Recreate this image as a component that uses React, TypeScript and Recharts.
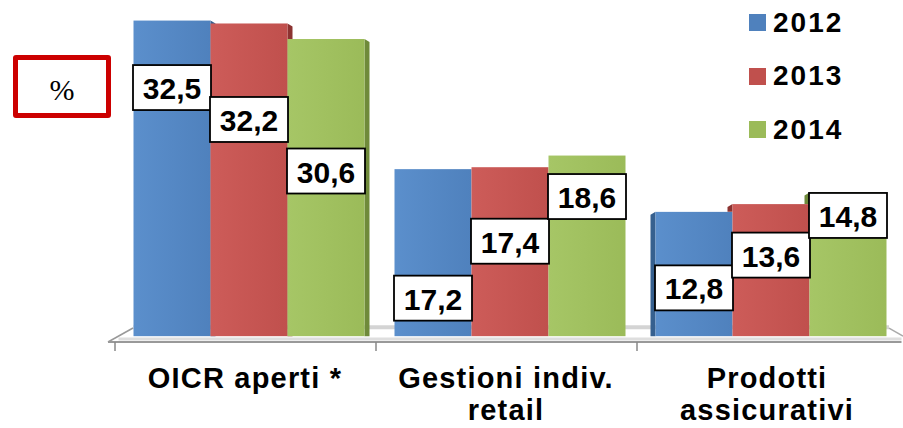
import React from "react";
import {
  BarChart,
  Bar,
  XAxis,
  YAxis,
  LabelList,
  ReferenceLine,
} from "recharts";

const categories = ["OICR aperti *", "Gestioni indiv.|retail", "Prodotti|assicurativi"];
const years = ["2012", "2013", "2014"];
const values2012 = [32.5, 17.2, 12.8];
const values2013 = [32.2, 17.4, 13.6];
const values2014 = [30.6, 18.6, 14.8];

const FONT = '"Liberation Sans", Arial, sans-serif';

const SERIES = [
  { key: "y2012", name: years[0], color: "#4f81bd", light: "#5b8fcc", dark: "#36608f" },
  { key: "y2013", name: years[1], color: "#c0504d", light: "#cd5c59", dark: "#8c3331" },
  { key: "y2014", name: years[2], color: "#9bbb59", light: "#a6c666", dark: "#6f8a3a" },
];

// vertical offset (px) of each label box centre below its bar top, per series / category
const LABEL_DY = [
  [67, 129, 76],
  [96, 74, 51],
  [132, 41, 23],
];

const data = categories.map((c, i) => ({
  name: c,
  y2012: values2012[i],
  y2013: values2013[i],
  y2014: values2014[i],
}));

const makeShape = (si: number) => (props: any) => {
  const { x, y, width, height, index, payload } = props;
  const s = SERIES[si];
  const bottom = y + height;
  const d = 5;
  let face = null;
  let floor = null;
  if (si === 0 && index === 0) {
    // back edge of the floor, drawn before every other bar
    floor = (
      <g>
        <line x1={x} y1={bottom - 9} x2={889} y2={bottom - 9} stroke="#d4d4d4" strokeWidth={4} />
        <line x1={889} y1={bottom - 8} x2={903} y2={bottom} stroke="#aaa" strokeWidth={1.5} />
      </g>
    );
  }
  if (index === 0) {
    // right face
    face = (
      <polygon
        points={`${x + width},${y} ${x + width + d},${y + 3} ${x + width + d},${bottom} ${x + width},${bottom}`}
        fill={s.dark}
      />
    );
  } else if (index === 2) {
    // left face, hidden behind the previous bar
    let faceBottom = bottom;
    if (si > 0) {
      const pv = payload[SERIES[si - 1].key];
      const v = payload[s.key];
      const prevTop = bottom - (height / v) * pv;
      faceBottom = Math.max(y, prevTop);
    }
    face = (
      <polygon
        points={`${x},${y} ${x - d},${y + 3} ${x - d},${faceBottom} ${x},${faceBottom}`}
        fill={s.dark}
      />
    );
  }
  return (
    <g>
      {floor}
      {face}
      <rect x={x} y={y} width={width} height={height} fill={`url(#grad${si})`} />
    </g>
  );
};

const makeLabel = (si: number) => (props: any) => {
  const { x, y, width, value, index } = props;
  const cx = x + width / 2;
  const cy = y + LABEL_DY[si][index];
  const w = 78;
  const h = 45;
  return (
    <g>
      <rect x={cx - w / 2} y={cy - h / 2} width={w} height={h} fill="#fff" stroke="#000" strokeWidth={1.8} />
      <text
        x={cx}
        y={cy + 1}
        textAnchor="middle"
        dominantBaseline="central"
        fontFamily={FONT}
        fontWeight="bold"
        fontSize={30}
        fill="#000"
      >
        {String(value).replace(".", ",")}
      </text>
    </g>
  );
};

const CategoryTick = (props: any) => {
  const { x, y, payload, index } = props;
  const lines = String(payload.value).split("|");
  return (
    <g>
      {index === 0 && (
        <g>
          <line x1={x - 141} y1={y} x2={x - 130} y2={y} stroke="#999" strokeWidth={2} />
          <line x1={x - 141} y1={y} x2={x - 116} y2={y - 14} stroke="#999" strokeWidth={1.5} />
        </g>
      )}
      <line x1={x - 134} y1={y} x2={x - 134} y2={y + 9} stroke="#888" strokeWidth={1.5} />
      {lines.map((l, i) => (
        <text
          key={i}
          x={x - 4}
          y={y + 46 + i * 32}
          textAnchor="middle"
          fontFamily={FONT}
          fontWeight="bold"
          fontSize={29}
          letterSpacing={1.2}
          fill="#000"
        >
          {l}
        </text>
      ))}
    </g>
  );
};

const LegendBox = () => (
  <div style={{ position: "absolute", left: 749, top: -4, fontFamily: FONT }}>
    {SERIES.map((s) => (
      <div key={s.key} style={{ display: "flex", alignItems: "center", height: 53.5 }}>
        <div style={{ width: 17, height: 17, background: s.color, marginRight: 7 }} />
        <span style={{ fontSize: 28, fontWeight: "bold", letterSpacing: 2, color: "#000" }}>{s.name}</span>
      </div>
    ))}
  </div>
);

export default function App() {
  return (
    <div style={{ position: "absolute", left: 0, top: 0, width: 903, height: 428, background: "#fff" }}>
      <div
        style={{
          position: "absolute",
          left: 13,
          top: 55,
          width: 98,
          height: 63,
          boxSizing: "border-box",
          border: "5px solid #cc0000",
          borderRadius: 3,
          display: "flex",
          alignItems: "center",
          justifyContent: "center",
          paddingTop: 6,
          fontFamily: '"Liberation Serif", "Times New Roman", serif',
          fontSize: 30,
          color: "#000",
        }}
      >
        %
      </div>
      <BarChart
        width={903}
        height={428}
        data={data}
        margin={{ top: 6, right: 1.5, bottom: 0, left: 118.5 }}
        barCategoryGap={15}
        barGap={0}
      >
        <defs>
          {SERIES.map((s, i) => (
            <linearGradient key={s.key} id={`grad${i}`} x1="0" y1="0" x2="1" y2="0">
              <stop offset="0%" stopColor={s.light} />
              <stop offset="100%" stopColor={s.color} />
            </linearGradient>
          ))}
        </defs>
        <YAxis hide domain={[-0.6, 34]} />
        <XAxis
          dataKey="name"
          height={86}
          axisLine={{ stroke: "#999", strokeWidth: 2 }}
          tickLine={false}
          tickSize={0}
          tickMargin={0}
          interval={0}
          tick={<CategoryTick />}
        />
        <ReferenceLine y={-0.3} stroke="#dedede" strokeWidth={3} />
        {SERIES.map((s, si) => (
          <Bar
            key={s.key}
            dataKey={s.key}
            name={s.name}
            fill={s.color}
            shape={makeShape(si)}
            isAnimationActive={false}
          >
            <LabelList dataKey={s.key} content={makeLabel(si)} />
          </Bar>
        ))}
      </BarChart>
      <LegendBox />
    </div>
  );
}
